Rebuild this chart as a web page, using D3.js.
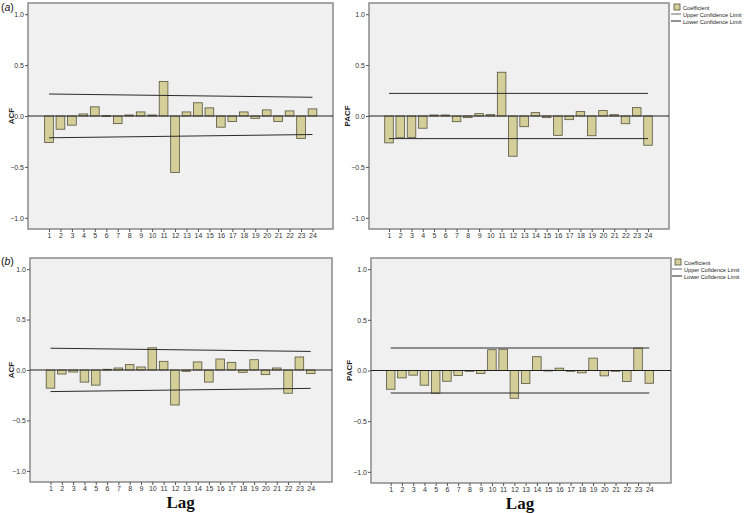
<!DOCTYPE html>
<html>
<head>
<meta charset="utf-8">
<script src="https://cdn.jsdelivr.net/npm/d3@7"></script>
<style>
  body { margin: 0; background: #fff; }
  svg { display: block; font-family: "Liberation Sans", Arial, sans-serif; }
</style>
</head>
<body>
<script>
'use strict';

// lags on the x axis
const lags = d3.range(1, 25);
const yTicks = [1.0, 0.5, 0.0, -0.5, -1.0];

// (a) coefficients
const acfA = [-0.26, -0.13, -0.09, 0.02, 0.09, 0.003, -0.075, 0.01, 0.04, 0.01, 0.34, -0.555,
  0.04, 0.13, 0.08, -0.11, -0.055, 0.04, -0.023, 0.06, -0.053, 0.05, -0.22, 0.07];
const pacfA = [-0.264, -0.214, -0.21, -0.12, 0.01, 0.01, -0.056, -0.016, 0.023, 0.013, 0.43, -0.395,
  -0.105, 0.033, -0.016, -0.19, -0.036, 0.043, -0.194, 0.053, 0.013, -0.076, 0.082, -0.287];
// (b) coefficients
const acfB = [-0.18, -0.04, -0.02, -0.12, -0.15, 0.007, 0.02, 0.053, 0.03, 0.22, 0.086, -0.347,
  -0.013, 0.08, -0.12, 0.109, 0.076, -0.023, 0.102, -0.046, 0.02, -0.23, 0.129, -0.036];
const pacfB = [-0.185, -0.073, -0.046, -0.145, -0.225, -0.106, -0.05, -0.003, -0.03, 0.205, 0.21, -0.274,
  -0.129, 0.136, 0.003, 0.023, -0.007, -0.023, 0.122, -0.053, -0.003, -0.109, 0.221, -0.126];

// confidence limits at lag 1 and lag 24
const acfUpper = [0.216, 0.184];
const acfLower = [-0.214, -0.182];
const pacfUpper = [0.222, 0.222];
const pacfLower = [-0.222, -0.222];

const legendA = ["Coefficient", "Upper Confidence Limit", "Lower Confidence Limit"];
const legendB = ["Coefficient", "Upper Cofidence Limit", "Lower Cofidence Limit"];

const svg = d3.select('body').append('svg')
  .attr('width', 747)
  .attr('height', 513);

const barFill = "#d4cf98";
const barStroke = "#55533f";
const frameColor = "#8a8a8a";

// draw one correlogram panel
function drawPanel(p) {
  let g = svg.append('g');

  let yScale = d3.scaleLinear()
    .domain([-1.11, 1.11])
    .range([p.bottom, p.top]);

  let xScale = d3.scalePoint()
    .domain(lags)
    .range([p.x1, p.x24]);

  // background + frame
  g.append('rect')
    .attr('x', p.left)
    .attr('y', p.top)
    .attr('width', p.right - p.left)
    .attr('height', p.bottom - p.top)
    .attr('fill', '#f0f0f0')
    .attr('stroke', frameColor)
    .attr('stroke-width', 1.5);

  // y axis
  let yAxis = d3.axisLeft(yScale)
    .tickValues(yTicks)
    .tickFormat(d3.format('.1f'))
    .tickSize(3)
    .tickPadding(1);
  let ya = g.append('g')
    .attr('transform', 'translate(' + p.left + ',0)')
    .call(yAxis);
  ya.select('.domain').remove();
  ya.selectAll('line').attr('stroke', '#555');
  ya.selectAll('text').attr('font-size', 7).attr('fill', '#333')
    .attr('font-family', '"Liberation Sans", Arial, sans-serif');

  // x axis
  let xAxis = d3.axisBottom(xScale)
    .tickSize(3)
    .tickPadding(1.5);
  let xa = g.append('g')
    .attr('transform', 'translate(0,' + p.bottom + ')')
    .call(xAxis);
  xa.select('.domain').remove();
  xa.selectAll('line').attr('stroke', '#555');
  xa.selectAll('text').attr('font-size', 7).attr('fill', '#333')
    .attr('font-family', '"Liberation Sans", Arial, sans-serif');

  // bars
  let bw = xScale.step() * 0.76;
  g.selectAll('.bar')
    .data(p.values)
    .enter()
    .append('rect')
      .attr('class', 'bar')
      .attr('x', (d, i) => xScale(lags[i]) - bw / 2)
      .attr('y', (d) => yScale(Math.max(0, d)))
      .attr('width', bw)
      .attr('height', (d) => Math.max(0.8, Math.abs(yScale(d) - yScale(0))))
      .attr('fill', barFill)
      .attr('stroke', barStroke)
      .attr('stroke-width', 0.8);

  // zero line
  g.append('line')
    .attr('x1', p.left)
    .attr('x2', p.right)
    .attr('y1', yScale(0))
    .attr('y2', yScale(0))
    .attr('stroke', '#222')
    .attr('stroke-width', 1);

  // confidence limits
  [p.upper, p.lower].forEach(function(lim) {
    g.append('line')
      .attr('x1', xScale(1))
      .attr('x2', xScale(24))
      .attr('y1', yScale(lim[0]))
      .attr('y2', yScale(lim[1]))
      .attr('stroke', '#2a2a2a')
      .attr('stroke-width', 1);
  });

  // y axis title
  g.append('text')
    .attr('transform', 'translate(' + p.labelX + ',' + yScale(0) + ')rotate(-90)')
    .attr('text-anchor', 'middle')
    .attr('font-size', 8)
    .attr('font-weight', 'bold')
    .attr('fill', '#222')
    .text(p.label);

  if (p.lag) {
    g.append('text')
      .attr('x', (p.x1 + p.x24) / 2)
      .attr('y', p.bottom + 26)
      .attr('text-anchor', 'middle')
      .attr('font-family', '"Liberation Serif", "Times New Roman", serif')
      .attr('font-weight', 'bold')
      .attr('font-size', 17)
      .attr('fill', '#111')
      .text('Lag');
  }
}

function drawLegend(x, y, labels) {
  let g = svg.append('g').attr('transform', 'translate(' + x + ',' + y + ')');
  g.append('rect')
    .attr('x', 3).attr('y', 0)
    .attr('width', 6).attr('height', 6)
    .attr('fill', barFill)
    .attr('stroke', barStroke)
    .attr('stroke-width', 0.8);
  g.append('line')
    .attr('x1', 0).attr('x2', 10)
    .attr('y1', 10).attr('y2', 10)
    .attr('stroke', '#666').attr('stroke-width', 1);
  g.append('line')
    .attr('x1', 0).attr('x2', 10)
    .attr('y1', 17).attr('y2', 17)
    .attr('stroke', '#222').attr('stroke-width', 1);
  g.selectAll('text')
    .data(labels)
    .enter()
    .append('text')
      .attr('x', 12)
      .attr('y', (d, i) => 5.5 + i * 7)
      .attr('font-size', 5.6)
      .attr('fill', '#222')
      .text((d) => d);
}

function panelLetter(y, letter) {
  let t = svg.append('text')
    .attr('x', 1)
    .attr('y', y)
    .attr('font-size', 10.5)
    .attr('fill', '#111');
  t.append('tspan').text('(');
  t.append('tspan').attr('font-style', 'italic').text(letter);
  t.append('tspan').text(')');
}

drawPanel({ left: 28, right: 333, top: 3, bottom: 229, x1: 49, x24: 312.5,
  values: acfA, upper: acfUpper, lower: acfLower, label: 'ACF', labelX: 14 });
drawPanel({ left: 369, right: 669, top: 3, bottom: 229, x1: 389, x24: 648,
  values: pacfA, upper: pacfUpper, lower: pacfLower, label: 'PACF', labelX: 350 });
drawPanel({ left: 30, right: 332, top: 258, bottom: 482, x1: 50.5, x24: 310.7,
  values: acfB, upper: acfUpper, lower: acfLower, label: 'ACF', labelX: 14, lag: true });
drawPanel({ left: 371, right: 671, top: 258, bottom: 483, x1: 390.7, x24: 649.3,
  values: pacfB, upper: pacfUpper, lower: pacfLower, label: 'PACF', labelX: 352, lag: true });

drawLegend(671, 4, legendA);
drawLegend(672, 259, legendB);
panelLetter(11, 'a');
panelLetter(265, 'b');
</script>
</body>
</html>
